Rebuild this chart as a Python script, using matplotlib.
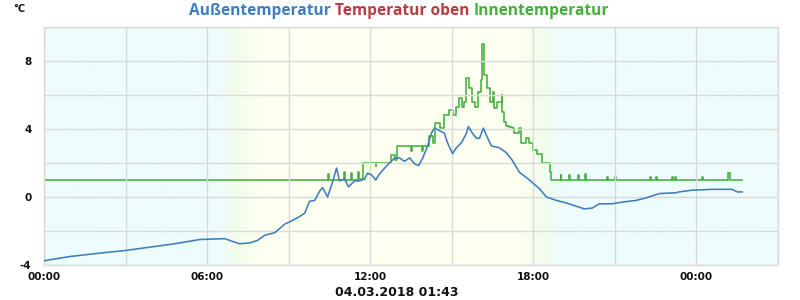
#!/usr/bin/env python3
"""Temperature log for one day: outside, top and inside temperature."""

import numpy as np
import matplotlib
matplotlib.use("Agg")
import matplotlib.pyplot as plt
from matplotlib.colors import to_rgb

# hours since 00:00 and temperature in °C
aussen_t = [0.0, 0.96, 2.06, 2.98, 3.89, 4.81, 5.73, 6.65, 6.91, 7.2, 7.57, 7.86,
            8.12, 8.49, 8.85, 9.11, 9.40, 9.59, 9.77, 9.96, 10.14, 10.25, 10.43,
            10.62, 10.76, 10.87, 11.06, 11.2, 11.43, 11.61, 11.79, 11.9, 12.05,
            12.2, 12.34, 12.53, 12.71, 12.9, 13.08, 13.26, 13.45, 13.63, 13.78,
            13.92, 14.11, 14.25, 14.36, 14.55, 14.73, 14.84, 15.03, 15.17, 15.36,
            15.54, 15.61, 15.76, 15.91, 16.02, 16.16, 16.31, 16.46, 16.75, 17.01,
            17.23, 17.49, 17.74, 17.96, 18.22, 18.48, 18.85, 19.21, 19.69, 19.87,
            20.17, 20.43, 20.9, 21.27, 21.78, 22.15, 22.63, 23.25, 23.36, 23.84,
            24.58, 25.31, 25.5, 25.68]
aussen_v = [-3.75, -3.5, -3.3, -3.15, -2.95, -2.75, -2.5, -2.45, -2.6, -2.75, -2.7,
            -2.55, -2.25, -2.1, -1.6, -1.4, -1.15, -0.95, -0.25, -0.2, 0.35, 0.55,
            0.0, 0.9, 1.7, 0.95, 1.05, 0.6, 0.95, 0.95, 1.05, 1.4, 1.3, 1.0, 1.35,
            1.7, 2.0, 2.3, 2.3, 2.1, 2.3, 1.95, 1.85, 2.25, 3.0, 3.75, 4.05, 3.9,
            3.75, 3.2, 2.55, 2.9, 3.2, 3.75, 4.15, 3.75, 3.45, 3.45, 4.05, 3.5,
            3.0, 2.9, 2.6, 2.15, 1.45, 1.15, 0.85, 0.5, 0.0, -0.2, -0.35, -0.6,
            -0.7, -0.65, -0.4, -0.4, -0.3, -0.2, -0.05, 0.2, 0.25, 0.3, 0.4, 0.45,
            0.45, 0.3, 0.3]

innen_t = [0.0, 10.45, 10.48, 11.05, 11.08, 11.3, 11.33, 11.55, 11.58, 11.75,
           12.2, 12.23, 12.75, 12.9, 13.0, 13.5, 13.53, 13.9, 13.93, 14.15, 14.3,
           14.38, 14.55, 14.73, 14.9, 15.03, 15.17, 15.28, 15.36, 15.45, 15.54,
           15.65, 15.76, 15.87, 15.98, 16.09, 16.13, 16.17, 16.28, 16.39, 16.5,
           16.57, 16.68, 16.83, 16.86, 16.93, 17.0, 17.12, 17.23, 17.3, 17.49,
           17.56, 17.74, 17.85, 17.98, 18.12, 18.32, 18.6, 18.66, 19.0, 19.03,
           19.32, 19.35, 19.65, 19.68, 19.91, 19.94, 20.72, 20.75, 21.01, 21.04,
           22.3, 22.33, 22.52, 22.55, 23.11, 23.14, 23.22, 23.25, 24.21, 24.24,
           25.17, 25.22, 25.68]
innen_v = [1.0, 1.35, 1.0, 1.5, 1.0, 1.4, 1.0, 1.5, 1.05, 2.0,
           1.85, 2.0, 2.45, 2.2, 3.0, 2.7, 3.0, 2.7, 3.0, 3.6, 3.2,
           4.35, 4.05, 4.8, 5.1, 4.8, 5.3, 5.8, 5.3, 5.6, 7.0,
           6.4, 5.6, 5.3, 6.2, 6.9, 9.0, 7.2, 6.4, 5.6, 6.2,
           5.25, 5.6, 6.0, 5.0, 4.4, 4.2, 4.1, 4.05, 3.75, 4.05,
           3.2, 3.45, 3.15, 2.75, 2.55, 2.0, 1.45, 1.0, 1.3, 1.0,
           1.3, 1.0, 1.3, 1.0, 1.35, 1.0, 1.2, 1.0, 1.2, 1.0,
           1.2, 1.0, 1.2, 1.0, 1.2, 1.0, 1.2, 1.0, 1.2, 1.0,
           1.4, 1.0, 1.0]

x_ticks = [0, 6, 12, 18, 24]
x_labels = ["00:00", "06:00", "12:00", "18:00", "00:00"]
y_ticks = [-4, 0, 4, 8]

# day/night shading (hours)
sunrise = (6.3, 7.9)
sunset = (17.5, 19.1)

BLUE = "#3d7ebf"
RED = "#b83c40"
GREEN = "#43b03b"
GRID = "#d9d9d9"

NIGHT = np.array(to_rgb("#eefcfd"))
DUSK = np.array(to_rgb("#f2fdec"))
DAY = np.array(to_rgb("#fefff0"))


def sky_colour(h):
    """Blend night -> dusk -> day for an hour value."""
    def ramp(a, b, up):
        f = np.clip((h - a) / (b - a), 0, 1)
        if not up:
            f = 1 - f
        if f <= 0.5:
            return NIGHT + (DUSK - NIGHT) * (f / 0.5)
        return DUSK + (DAY - DUSK) * ((f - 0.5) / 0.5)
    if h < (sunrise[1] + sunset[0]) / 2:
        return ramp(*sunrise, True)
    return ramp(*sunset, False)


plt.rcParams['font.family'] = ['DejaVu Sans']

fig = plt.figure(figsize=(8, 3), dpi=100)
fig.patch.set_facecolor('white')
ax = fig.add_axes([44 / 800, 1 - 265 / 300, (778 - 44) / 800, (265 - 27) / 300])

xmin, xmax, ymin, ymax = 0, 27, -4, 10
hours = np.linspace(xmin, xmax, 800)
bg = np.array([sky_colour(h) for h in hours])[None, :, :]
ax.imshow(bg, extent=[xmin, xmax, ymin, ymax], aspect='auto', zorder=0,
          interpolation='bilinear')

ax.plot(aussen_t, aussen_v, color=BLUE, lw=1.15, zorder=3)
ax.plot(innen_t, innen_v, drawstyle='steps-post', color=GREEN, lw=1.15, zorder=2)

ax.set_xlim(xmin, xmax)
ax.set_ylim(ymin, ymax)
ax.set_xticks(np.arange(0, 28, 3), minor=True)
ax.set_yticks(np.arange(-4, 11, 2), minor=True)
ax.set_xticks(x_ticks)
ax.set_xticklabels(x_labels)
ax.set_yticks(y_ticks)
ax.set_yticklabels([str(v) for v in y_ticks])
ax.grid(True, which='both', color=GRID, lw=1.0, zorder=1)
ax.set_axisbelow(False)
for line in ax.get_xgridlines() + ax.get_ygridlines():
    line.set_zorder(1)
for s in ax.spines.values():
    s.set_color(GRID)
    s.set_linewidth(1.0)
ax.tick_params(which='both', length=0)
ax.tick_params(axis='x', pad=5, labelsize=7.5, colors='#111111')
ax.tick_params(axis='y', pad=9, labelsize=7.5, colors='#111111')
for lbl in ax.get_xticklabels() + ax.get_yticklabels():
    lbl.set_fontweight('bold')

fig.text(13 / 800, 1 - 9 / 300, "°C", fontsize=7, fontweight='bold',
         va='center', ha='left', color='#111111')
fig.text(397 / 800, 1 - 292 / 300, "04.03.2018 01:43", fontsize=9,
         fontweight='bold', ha='center', va='center', color='#111111')

# coloured title, laid out piece by piece
parts = [("Außentemperatur ", BLUE), ("Temperatur oben ", RED),
         ("Innentemperatur", GREEN)]
renderer = fig.canvas.get_renderer()
texts = [fig.text(0, 1 - 11 / 300, s, color=c, fontsize=11.2, fontweight='bold',
                  family='Open Sans', va='center', ha='left')
         for s, c in parts]
widths = [t.get_window_extent(renderer).width for t in texts]
x = 399 - sum(widths) / 2
for t, w in zip(texts, widths):
    t.set_x(x / 800)
    x += w

fig.savefig("out.png", dpi=100)
